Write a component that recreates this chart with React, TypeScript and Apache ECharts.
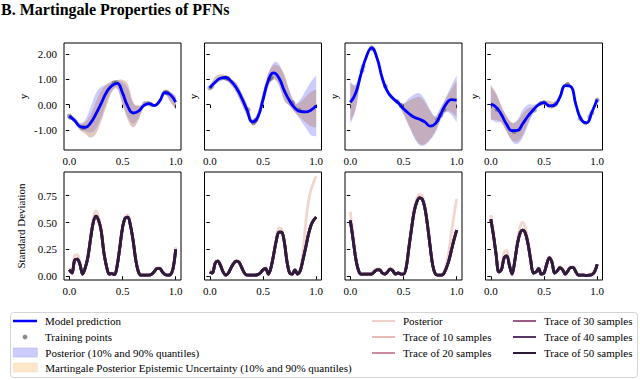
import React, { useEffect, useRef } from "react";
import * as echarts from "echarts";

// ---------- data ----------
const topX = [0, 0.05, 0.1, 0.15, 0.2, 0.25, 0.3, 0.35, 0.4, 0.45, 0.5, 0.55, 0.6, 0.65, 0.7, 0.75, 0.8, 0.85, 0.9, 0.95, 1.0];
const botX = [0, 0.025, 0.05, 0.075, 0.1, 0.125, 0.15, 0.175, 0.2, 0.225, 0.25, 0.275, 0.3, 0.325, 0.35, 0.375, 0.4, 0.425, 0.45, 0.475, 0.5, 0.525, 0.55, 0.575, 0.6, 0.625, 0.65, 0.675, 0.7, 0.725, 0.75, 0.775, 0.8, 0.825, 0.85, 0.875, 0.9, 0.925, 0.95, 0.975, 1.0];

const xTicks = [0, 0.5, 1];
const yTicksTop = [-1, 0, 1, 2];
const yTicksBot = [0, 0.25, 0.5, 0.75];

// panel 1
const pred1 = [-0.46, -0.63, -0.86, -0.9, -0.72, -0.37, 0.05, 0.49, 0.75, 0.84, 0.46, -0.07, -0.33, -0.26, -0.04, 0.04, -0.04, 0.15, 0.47, 0.39, 0.1];
const post1Lo = [-0.52, -0.72, -0.98, -1.05, -1.1, -0.95, -0.5, 0.1, 0.55, 0.68, 0.05, -0.5, -0.75, -0.52, -0.1, -0.01, -0.08, 0.08, 0.42, 0.15, -0.15];
const post1Hi = [-0.38, -0.5, -0.72, -0.6, -0.1, 0.45, 0.7, 0.78, 0.88, 0.95, 0.88, 0.65, 0.05, -0.05, 0.03, 0.09, 0.01, 0.22, 0.55, 0.5, 0.35];
const mart1Lo = [-0.52, -0.72, -1.0, -1.15, -1.3, -1.15, -0.65, -0.05, 0.5, 0.62, 0.0, -0.6, -0.9, -0.62, -0.12, -0.02, -0.1, 0.05, 0.38, 0.1, -0.2];
const mart1Hi = [-0.4, -0.55, -0.75, -0.7, -0.4, 0.1, 0.55, 0.8, 0.92, 0.97, 0.98, 0.8, 0.1, -0.04, 0.03, 0.1, 0.02, 0.25, 0.58, 0.5, 0.3];
const train1X = [0.0, 0.01, 0.12, 0.14, 0.42, 0.44, 0.71, 0.74, 0.77, 0.9, 0.92];
const train1Y = [-0.45, -0.5, -0.9, -0.9, 0.85, 0.87, 0.04, 0.05, 0.0, 0.49, 0.46];

// panel 2
const pred2 = [0.66, 0.88, 1.04, 1.07, 0.92, 0.66, 0.26, -0.22, -0.68, -0.5, 0.2, 0.95, 1.25, 1.05, 0.55, 0.15, -0.13, -0.27, -0.29, -0.22, -0.04];
const post2Lo = [0.58, 0.8, 0.92, 0.98, 0.8, 0.5, 0.05, -0.4, -0.78, -0.65, 0.0, 0.75, 1.05, 0.8, 0.2, -0.05, -0.3, -0.6, -0.9, -1.2, -1.25];
const post2Hi = [0.74, 0.98, 1.12, 1.12, 1.0, 0.8, 0.45, 0.0, -0.6, -0.35, 0.45, 1.2, 1.65, 1.6, 1.1, 0.5, 0.05, 0.2, 0.55, 0.9, 1.15];
const mart2Lo = [0.6, 0.8, 0.95, 0.95, 0.75, 0.45, 0.0, -0.45, -0.78, -0.65, -0.05, 0.7, 1.0, 0.75, 0.15, -0.05, -0.3, -0.5, -0.7, -0.85, -0.9];
const mart2Hi = [0.75, 1.1, 1.2, 1.15, 1.02, 0.85, 0.45, 0.0, -0.58, -0.3, 0.5, 1.25, 1.55, 1.5, 1.2, 0.55, 0.05, 0.1, 0.3, 0.5, 0.6];
const train2X = [0.0, 0.02, 0.15, 0.17, 0.36, 0.41, 0.43, 0.56, 0.58, 0.78, 0.84];
const train2Y = [0.66, 0.72, 1.05, 1.03, -0.2, -0.72, -0.62, 1.0, 1.05, 0.08, -0.22];

// panel 3
const pred3 = [0.09, 0.45, 1.2, 1.88, 2.24, 1.85, 1.05, 0.51, 0.25, 0.07, -0.16, -0.35, -0.5, -0.58, -0.68, -0.85, -0.75, -0.38, 0.02, 0.2, 0.18];
const post3Lo = [-0.75, -0.2, 1.0, 1.78, 2.14, 1.75, 0.93, 0.41, 0.15, -0.02, -0.4, -0.85, -1.3, -1.6, -1.6, -1.4, -1.1, -0.6, -0.3, -0.4, -0.7];
const post3Hi = [0.9, 0.8, 1.35, 1.98, 2.32, 1.95, 1.15, 0.61, 0.35, 0.15, 0.05, 0.25, 0.4, 0.45, 0.2, -0.2, -0.45, -0.1, 0.3, 0.75, 1.15];
const mart3Lo = [-0.65, -0.15, 1.05, 1.8, 2.16, 1.77, 0.95, 0.43, 0.17, 0.0, -0.35, -0.8, -1.25, -1.55, -1.55, -1.35, -1.05, -0.55, -0.25, -0.3, -0.5];
const mart3Hi = [0.85, 0.75, 1.32, 1.96, 2.3, 1.93, 1.13, 0.59, 0.33, 0.13, 0.02, 0.15, 0.25, 0.3, 0.1, -0.25, -0.5, -0.15, 0.25, 0.6, 0.95];
const train3X = [0.11, 0.12, 0.2, 0.21, 0.33, 0.44, 0.48, 0.82, 0.85, 0.88];
const train3Y = [1.35, 1.5, 2.24, 2.2, 0.72, 0.12, -0.05, -0.6, -0.42, -0.2];

// panel 4
const pred4 = [0.02, -0.1, -0.4, -0.79, -1.03, -1.02, -0.75, -0.45, -0.2, 0.0, 0.08, -0.05, -0.02, 0.3, 0.75, 0.72, 0.0, -0.59, -0.72, -0.3, 0.2];
const post4Lo = [-0.55, -0.7, -0.7, -1.05, -1.45, -1.55, -1.3, -0.8, -0.35, -0.05, 0.02, -0.12, -0.1, 0.24, 0.69, 0.66, -0.06, -0.64, -0.78, -0.37, 0.15];
const post4Hi = [0.7, 0.4, -0.1, -0.5, -0.72, -0.6, -0.2, 0.0, 0.0, 0.05, 0.13, 0.02, 0.06, 0.36, 0.81, 0.78, 0.06, -0.54, -0.66, -0.23, 0.25];
const mart4Lo = [-0.62, -0.6, -0.72, -1.1, -1.4, -1.45, -1.2, -0.72, -0.3, -0.05, 0.0, -0.14, -0.12, 0.22, 0.68, 0.64, -0.08, -0.66, -0.8, -0.4, 0.12];
const mart4Hi = [0.78, 0.45, -0.05, -0.45, -0.72, -0.65, -0.35, -0.15, -0.08, 0.06, 0.16, 0.15, 0.12, 0.38, 0.83, 0.8, 0.08, -0.52, -0.64, -0.2, 0.28];
const train4X = [0.06, 0.22, 0.41, 0.47, 0.5, 0.61, 0.72, 0.84, 0.93, 0.95, 1.0];
const train4Y = [-0.2, -1.06, -0.22, 0.05, 0.08, 0.02, 0.79, -0.55, -0.48, -0.33, 0.18];

// bottom row: standard deviation
const std1Post = [0.08, 0.05, 0.19, 0.2, 0.13, 0.03, 0.09, 0.2, 0.38, 0.54, 0.61, 0.56, 0.44, 0.23, 0.09, 0.02, 0.03, 0.02, 0.11, 0.28, 0.46, 0.55, 0.57, 0.49, 0.34, 0.16, 0.05, 0.02, 0.01, 0.01, 0.01, 0.02, 0.05, 0.08, 0.08, 0.05, 0.02, 0.01, 0.02, 0.08, 0.27];
const std1T50 = [0.06, 0.03, 0.15, 0.16, 0.11, 0.02, 0.08, 0.18, 0.35, 0.5, 0.56, 0.52, 0.42, 0.22, 0.09, 0.02, 0.025, 0.015, 0.1, 0.27, 0.45, 0.54, 0.55, 0.47, 0.33, 0.15, 0.04, 0.01, 0.01, 0.01, 0.01, 0.02, 0.045, 0.07, 0.07, 0.04, 0.015, 0.01, 0.015, 0.07, 0.25];
const std2Post = [0.06, 0.04, 0.13, 0.15, 0.11, 0.04, 0.015, 0.04, 0.09, 0.13, 0.15, 0.14, 0.09, 0.03, 0.01, 0.01, 0.01, 0.01, 0.02, 0.035, 0.065, 0.08, 0.03, 0.09, 0.22, 0.36, 0.45, 0.44, 0.34, 0.15, 0.03, 0.02, 0.06, 0.03, 0.06, 0.22, 0.48, 0.68, 0.8, 0.87, 0.93];
const std2T50 = [0.04, 0.03, 0.12, 0.14, 0.1, 0.04, 0.01, 0.03, 0.08, 0.12, 0.14, 0.13, 0.08, 0.03, 0.01, 0.01, 0.01, 0.01, 0.015, 0.03, 0.06, 0.07, 0.02, 0.08, 0.2, 0.33, 0.41, 0.41, 0.32, 0.14, 0.03, 0.02, 0.06, 0.02, 0.05, 0.15, 0.26, 0.38, 0.47, 0.52, 0.55];
const std3Post = [0.6, 0.4, 0.2, 0.07, 0.02, 0.02, 0.02, 0.02, 0.03, 0.05, 0.07, 0.07, 0.04, 0.02, 0.05, 0.075, 0.06, 0.02, 0.03, 0.02, 0.02, 0.09, 0.28, 0.47, 0.63, 0.72, 0.76, 0.75, 0.67, 0.5, 0.3, 0.11, 0.02, 0.01, 0.01, 0.03, 0.1, 0.22, 0.4, 0.57, 0.72];
const std3T50 = [0.52, 0.35, 0.17, 0.06, 0.02, 0.02, 0.02, 0.02, 0.02, 0.04, 0.06, 0.06, 0.03, 0.02, 0.04, 0.065, 0.05, 0.02, 0.03, 0.02, 0.02, 0.08, 0.26, 0.44, 0.6, 0.69, 0.73, 0.72, 0.64, 0.48, 0.28, 0.1, 0.02, 0.01, 0.01, 0.02, 0.07, 0.14, 0.24, 0.34, 0.43];
const std4Post = [0.57, 0.41, 0.22, 0.05, 0.08, 0.22, 0.24, 0.12, 0.02, 0.16, 0.34, 0.46, 0.5, 0.45, 0.33, 0.16, 0.03, 0.04, 0.08, 0.02, 0.03, 0.12, 0.18, 0.14, 0.03, 0.05, 0.09, 0.07, 0.02, 0.05, 0.09, 0.09, 0.04, 0.01, 0.01, 0.01, 0.01, 0.02, 0.03, 0.05, 0.08];
const std4T50 = [0.53, 0.38, 0.2, 0.04, 0.06, 0.17, 0.19, 0.1, 0.02, 0.14, 0.3, 0.4, 0.43, 0.4, 0.3, 0.15, 0.03, 0.04, 0.07, 0.02, 0.03, 0.11, 0.17, 0.13, 0.03, 0.05, 0.08, 0.06, 0.02, 0.05, 0.08, 0.08, 0.04, 0.01, 0.01, 0.01, 0.005, 0.01, 0.015, 0.04, 0.11];
// traces of 10..40 samples are indistinguishable from the 50-sample trace at this resolution
const std1T10 = std1T50, std1T20 = std1T50, std1T30 = std1T50, std1T40 = std1T50;
const std2T10 = std2T50, std2T20 = std2T50, std2T30 = std2T50, std2T40 = std2T50;
const std3T10 = std3T50, std3T20 = std3T50, std3T30 = std3T50, std3T40 = std3T50;
const std4T10 = std4T50, std4T20 = std4T50, std4T30 = std4T50, std4T40 = std4T50;

const N_PRED = "Model prediction";
const N_TRAIN = "Training points";
const N_POST = "Posterior (10% and 90% quantiles)";
const N_MART = "Martingale Posterior Epistemic Uncertainty (10% and 90% quantiles)";
const botNames = ["Posterior", "Trace of 10 samples", "Trace of 20 samples", "Trace of 30 samples", "Trace of 40 samples", "Trace of 50 samples"];
const botColors = ["#f1d0c9", "#e9b9b3", "#cc8a9e", "#9d5a86", "#573465", "#2e1a3b"];

const topPanels = [
  { pred: pred1, postLo: post1Lo, postHi: post1Hi, martLo: mart1Lo, martHi: mart1Hi, tx: train1X, ty: train1Y },
  { pred: pred2, postLo: post2Lo, postHi: post2Hi, martLo: mart2Lo, martHi: mart2Hi, tx: train2X, ty: train2Y },
  { pred: pred3, postLo: post3Lo, postHi: post3Hi, martLo: mart3Lo, martHi: mart3Hi, tx: train3X, ty: train3Y },
  { pred: pred4, postLo: post4Lo, postHi: post4Hi, martLo: mart4Lo, martHi: mart4Hi, tx: train4X, ty: train4Y },
];
const botPanels = [
  [std1Post, std1T10, std1T20, std1T30, std1T40, std1T50],
  [std2Post, std2T10, std2T20, std2T30, std2T40, std2T50],
  [std3Post, std3T10, std3T20, std3T30, std3T40, std3T50],
  [std4Post, std4T10, std4T20, std4T30, std4T40, std4T50],
];

// ---------- helpers ----------
const FONT = '"Liberation Serif", "Times New Roman", serif';
const pair = (xs: number[], ys: number[]) => xs.map((x, i) => [x, ys[i]]);
const triple = (xs: number[], lo: number[], hi: number[]) => xs.map((x, i) => [x, lo[i], hi[i]]);

// Catmull-Rom smoothing in pixel space (rendering only)
function spline(pts: number[][], seg = 8): number[][] {
  const out: number[][] = [];
  const n = pts.length;
  for (let i = 0; i < n - 1; i++) {
    const p0 = pts[i - 1] || pts[i], p1 = pts[i], p2 = pts[i + 1], p3 = pts[i + 2] || pts[i + 1];
    for (let s = 0; s < seg; s++) {
      const t = s / seg, t2 = t * t, t3 = t2 * t;
      const f = (a: number, b: number, c: number, d: number) =>
        0.5 * (2 * b + (-a + c) * t + (2 * a - 5 * b + 4 * c - d) * t2 + (-a + 3 * b - 3 * c + d) * t3);
      out.push([f(p0[0], p1[0], p2[0], p3[0]), f(p0[1], p1[1], p2[1], p3[1])]);
    }
  }
  out.push(pts[n - 1]);
  return out;
}

function bandRenderer(fill: string) {
  return (params: any, api: any) => {
    if (params.dataIndexInside !== 0) return null;
    const n = params.dataInsideLength;
    const up: number[][] = [];
    const lo: number[][] = [];
    for (let i = 0; i < n; i++) {
      up.push(api.coord([api.value(0, i), api.value(2, i)]));
      lo.push(api.coord([api.value(0, i), api.value(1, i)]));
    }
    const pts = spline(up).concat(spline(lo).reverse());
    return { type: "polygon", shape: { points: pts }, style: { fill } };
  };
}

const LEFTS = [64, 204.5, 345, 485.5];
const GW = 117;

function buildOption() {
  const grid: any[] = [];
  const xAxis: any[] = [];
  const yAxis: any[] = [];
  const series: any[] = [];
  const txt = { fontFamily: FONT, fontSize: 11, color: "#000" };

  for (let r = 0; r < 2; r++) {
    for (let c = 0; c < 4; c++) {
      const gi = r * 4 + c;
      grid.push({
        left: LEFTS[c], top: r === 0 ? 43 : 172, width: GW, height: r === 0 ? 107 : 108,
        show: true, borderColor: "#000", borderWidth: 1, backgroundColor: "transparent",
      });
      xAxis.push({
        type: "value", gridIndex: gi, min: -0.05, max: 1.05,
        axisLine: { show: false }, splitLine: { show: false },
        axisTick: { show: true, customValues: xTicks, length: 3.5, lineStyle: { color: "#000", width: 1 } },
        axisLabel: { show: true, customValues: xTicks, formatter: (v: number) => v.toFixed(1), margin: 5, ...txt },
      });
      const yt = r === 0 ? yTicksTop : yTicksBot;
      yAxis.push({
        type: "value", gridIndex: gi,
        min: r === 0 ? -1.79 : -0.035, max: r === 0 ? 2.43 : 0.97,
        axisLine: { show: false }, splitLine: { show: false },
        axisTick: { show: true, customValues: yt, length: 3.5, lineStyle: { color: "#000", width: 1 } },
        axisLabel: { show: c === 0, customValues: yt, formatter: (v: number) => v.toFixed(2), margin: 7, ...txt },
        name: r === 0 ? "y" : c === 0 ? "Standard Deviation" : "",
        nameLocation: "middle", nameRotate: 90,
        nameGap: r === 0 ? (c === 0 ? 36 : 6) : 38,
        nameTextStyle: { ...txt },
      });
    }
  }

  const POST_FILL = "rgba(40,40,255,0.24)";
  const MART_FILL = "rgba(185,135,110,0.45)";
  topPanels.forEach((p, c) => {
    series.push({
      type: "custom", name: N_POST, xAxisIndex: c, yAxisIndex: c, data: triple(topX, p.postLo, p.postHi),
      renderItem: bandRenderer(POST_FILL), itemStyle: { color: "#ccccff" }, silent: true, z: 1,
    });
    series.push({
      type: "custom", name: N_MART, xAxisIndex: c, yAxisIndex: c, data: triple(topX, p.martLo, p.martHi),
      renderItem: bandRenderer(MART_FILL), itemStyle: { color: "#fde6c8" }, silent: true, z: 1,
    });
    series.push({
      type: "scatter", name: N_TRAIN, xAxisIndex: c, yAxisIndex: c, data: pair(p.tx, p.ty),
      symbol: "circle", symbolSize: 5, itemStyle: { color: "rgba(70,70,70,0.55)" }, z: 3, silent: true,
    });
    series.push({
      type: "line", name: N_PRED, xAxisIndex: c, yAxisIndex: c, data: pair(topX, p.pred),
      symbol: "none", showSymbol: false, smooth: 0.5, silent: true,
      lineStyle: { color: "#0000ff", width: 2.8 }, itemStyle: { color: "#0000ff" }, z: 4,
    });
  });

  botPanels.forEach((arrs, c) => {
    arrs.forEach((ys, k) => {
      series.push({
        type: "line", name: botNames[k], xAxisIndex: 4 + c, yAxisIndex: 4 + c, data: pair(botX, ys),
        symbol: "none", showSymbol: false, smooth: 0.35, silent: true,
        lineStyle: { color: botColors[k], width: 2.8, opacity: k === 0 ? 0.9 : 1 },
        itemStyle: { color: botColors[k] }, z: 2 + k,
      });
    });
  });

  const legTxt = { fontFamily: FONT, fontSize: 11, color: "#000", padding: [0, 0, 0, 3], lineHeight: 14 };
  const legBase = { orient: "vertical", padding: 0, selectedMode: false, itemWidth: 24, itemHeight: 9, textStyle: legTxt, z: 5 };
  const lineItem = (name: string, color: string) => ({ name, icon: "rect", itemStyle: { color, borderWidth: 0 } });
  const legend = [
    { ...legBase, left: 13, top: 314, itemHeight: 2.5, data: [lineItem(N_PRED, "#0000ff")] },
    { ...legBase, left: 13, top: 330, data: [{ name: N_TRAIN, icon: "rect", itemStyle: { color: "rgba(0,0,0,0)", borderWidth: 0 } }] },
    { ...legBase, left: 13, top: 345.5, data: [{ name: N_POST, icon: "rect", itemStyle: { color: "#ccccff", borderColor: "#b4b4f4", borderWidth: 0.6 } }] },
    { ...legBase, left: 13, top: 360.5, data: [{ name: N_MART, icon: "rect", itemStyle: { color: "#fde7ca", borderColor: "#f8dcc0", borderWidth: 0.6 } }] },
    { ...legBase, left: 372, top: 314, itemWidth: 23, itemHeight: 2, itemGap: 2, data: botNames.slice(0, 3).map((n, i) => lineItem(n, botColors[i])) },
    { ...legBase, left: 513, top: 314, itemWidth: 23, itemHeight: 2, itemGap: 2, data: botNames.slice(3, 6).map((n, i) => lineItem(n, botColors[i + 3])) },
  ];

  return {
    animation: false,
    backgroundColor: "#fff",
    title: {
      text: "B. Martingale Properties of PFNs", left: 1, top: 1, padding: 0,
      textStyle: { fontFamily: FONT, fontSize: 16, fontWeight: "bold", color: "#000", lineHeight: 16 },
    },
    graphic: [
      { type: "rect", z: 0, shape: { x: 10.5, y: 312.5, width: 627, height: 65, r: 3 }, style: { fill: "#fff", stroke: "#d4d4d4", lineWidth: 1 } },
      { type: "circle", z: 10, shape: { cx: 25, cy: 337, r: 2.4 }, style: { fill: "rgba(110,110,110,0.8)" } },
    ],
    legend,
    grid, xAxis, yAxis, series,
  };
}

export default function App() {
  const ref = useRef<HTMLDivElement>(null);
  useEffect(() => {
    if (!ref.current) return;
    const chart = echarts.init(ref.current, undefined, { renderer: "svg" });
    chart.setOption(buildOption() as any);
    return () => chart.dispose();
  }, []);
  return <div ref={ref} style={{ position: "absolute", left: 0, top: 0, width: 640, height: 380 }} />;
}
